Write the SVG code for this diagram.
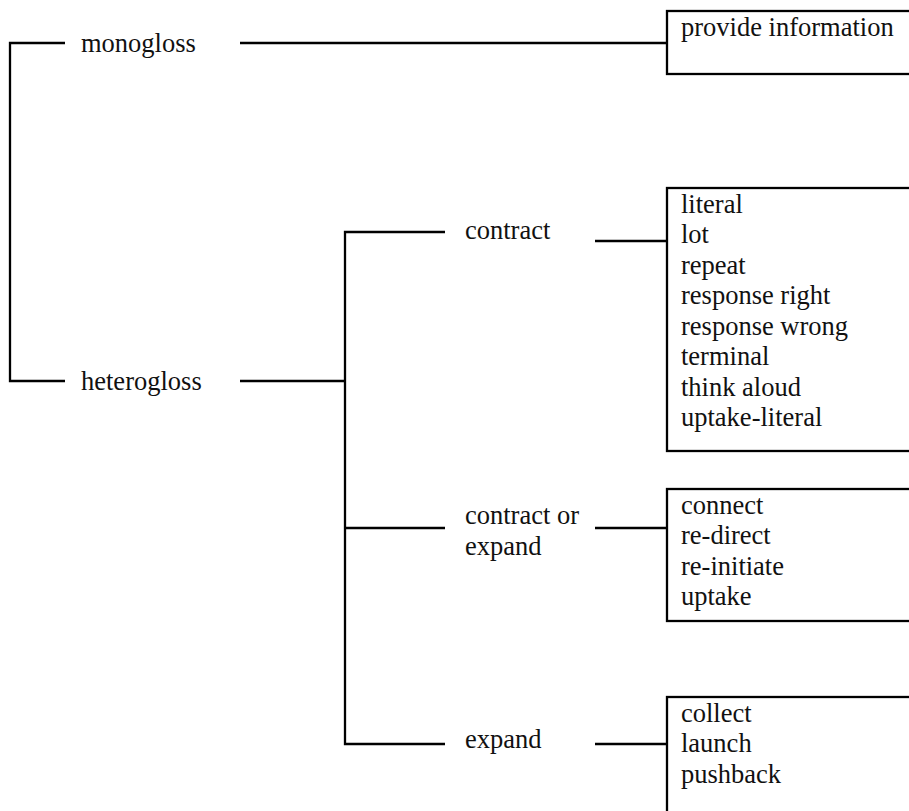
<svg xmlns="http://www.w3.org/2000/svg" width="909" height="811" viewBox="0 0 909 811">
<style>
.ln{stroke:#000;stroke-width:2.3;fill:none}
.bx{stroke:#000;stroke-width:2.3;fill:#fff}
text{font-size:26.5px;fill:#111}
</style>
<rect width="909" height="811" fill="#fff"/>
<g id="connectors">
<path class="ln" d="M65,43 H10 V381 H65"/>
<path class="ln" d="M240,43 H667"/>
<path class="ln" d="M240,381 H345"/>
<path class="ln" d="M445,232 H345 V744 H445"/>
<path class="ln" d="M345,528 H445"/>
<path class="ln" d="M595,241 H667"/>
<path class="ln" d="M595,528 H667"/>
<path class="ln" d="M595,744 H667"/>
</g>
<g font-family="Liberation Serif, Tinos, Times New Roman, Times, DejaVu Serif, serif">
<g id="monogloss"><text x="81" y="52">monogloss</text></g>
<g id="heterogloss"><text x="81" y="390">heterogloss</text></g>
<g id="contract"><text x="465" y="239">contract</text></g>
<g id="contract-or-expand"><text x="465" y="524">contract or</text><text x="465" y="555">expand</text></g>
<g id="expand"><text x="465" y="748">expand</text></g>
<g id="box-provide">
<rect class="bx" x="667" y="11" width="260" height="63"/>
<text x="681" y="36">provide information</text>
</g>
<g id="box-contract">
<rect class="bx" x="667" y="188" width="260" height="263"/>
<text x="681" y="212.5">literal</text>
<text x="681" y="243">lot</text>
<text x="681" y="273.5">repeat</text>
<text x="681" y="304">response right</text>
<text x="681" y="334.5">response wrong</text>
<text x="681" y="365">terminal</text>
<text x="681" y="395.5">think aloud</text>
<text x="681" y="426">uptake-literal</text>
</g>
<g id="box-contract-or-expand">
<rect class="bx" x="667" y="489" width="260" height="132"/>
<text x="681" y="513.5">connect</text>
<text x="681" y="544">re-direct</text>
<text x="681" y="574.5">re-initiate</text>
<text x="681" y="605">uptake</text>
</g>
<g id="box-expand">
<rect class="bx" x="667" y="697" width="260" height="130"/>
<text x="681" y="721.5">collect</text>
<text x="681" y="752">launch</text>
<text x="681" y="782.5">pushback</text>
</g>
</g>
</svg>
